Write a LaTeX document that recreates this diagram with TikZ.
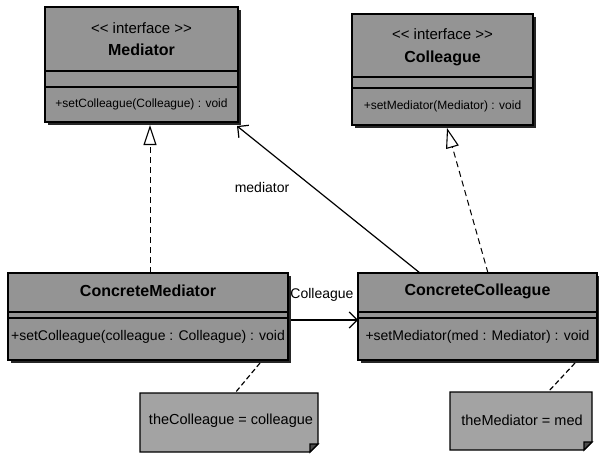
\documentclass[tikz,border=0pt]{standalone}
\usepackage{fontspec}
\setmainfont{Liberation Sans}
\usetikzlibrary{arrows.meta,shadows}
\begin{document}
\begin{tikzpicture}[x=1pt,y=-1pt,
  cls/.style={draw=black, line width=1.6pt, fill=black!42, inner sep=0pt, outer sep=0pt,
    drop shadow={shadow xshift=3pt, shadow yshift=-3pt, opacity=1, fill=black!85}},
  sepline/.style={draw=black, line width=1.4pt},
  stereo/.style={inner sep=0pt, font=\fontsize{15}{16}\selectfont},
  cname/.style={inner sep=0pt, font=\fontsize{16}{18}\selectfont\bfseries},
  imeth/.style={inner sep=0pt, font=\fontsize{12}{14}\selectfont},
  cmeth/.style={inner sep=0pt, font=\fontsize{14}{16}\selectfont},
  notebody/.style={draw=none, inner sep=0pt, outer sep=0pt},
  noteline/.style={draw=black, line width=1.3pt, fill=black!36},
  notetext/.style={inner sep=0pt, font=\fontsize{14.5}{16}\selectfont},
  lbl/.style={inner sep=0pt, font=\fontsize{14}{16}\selectfont},
  realize/.style={draw=black, line width=1pt, dash pattern=on 6pt off 4pt,
    -{Triangle[open, length=20pt, width=13pt, line width=1.1pt]}},
  assoc/.style={draw=black, line width=1.2pt, -{Straight Barb[length=8pt, width=16pt, line width=1.2pt]}},
  anchorline/.style={draw=black, line width=1.2pt, dash pattern=on 5pt off 3pt},
]
\useasboundingbox (0,0) rectangle (599,455);

% interface Mediator
\node[cls, minimum width=193pt, minimum height=115pt] (med) at (141.5,64.5) {};
\draw[sepline] ([yshift=-64pt]med.north west) -- ([yshift=-64pt]med.north east);
\draw[sepline] ([yshift=-80pt]med.north west) -- ([yshift=-80pt]med.north east);
\node[stereo] (medst) at (141.5,28) {<{}< interface >{}>};
\node[cname] (medname) at (141.5,50) {Mediator};
\node[imeth] (medop) at (141.5,104) {+setColleague(Colleague) : void};

% interface Colleague
\node[cls, minimum width=181pt, minimum height=111pt] (col) at (442.5,69.5) {};
\draw[sepline] ([yshift=-63pt]col.north west) -- ([yshift=-63pt]col.north east);
\draw[sepline] ([yshift=-74pt]col.north west) -- ([yshift=-74pt]col.north east);
\node[stereo] (colst) at (442.5,34) {<{}< interface >{}>};
\node[cname] (colname) at (442.5,58) {Colleague};
\node[imeth] (colop) at (442.5,106) {+setMediator(Mediator) : void};

% ConcreteMediator
\node[cls, minimum width=280pt, minimum height=87pt] (cm) at (148,316.5) {};
\draw[sepline] ([yshift=-39pt]cm.north west) -- ([yshift=-39pt]cm.north east);
\draw[sepline] ([yshift=-45pt]cm.north west) -- ([yshift=-45pt]cm.north east);
\node[cname] (cmname) at (148,291) {ConcreteMediator};
\node[cmeth] (cmop) at (148,337) {+setColleague(colleague : Colleague) : void};

% ConcreteColleague
\node[cls, minimum width=239pt, minimum height=87pt] (cc) at (477.5,316.5) {};
\draw[sepline] ([yshift=-39pt]cc.north west) -- ([yshift=-39pt]cc.north east);
\draw[sepline] ([yshift=-45pt]cc.north west) -- ([yshift=-45pt]cc.north east);
\node[cname] (ccname) at (477.5,291) {ConcreteColleague};
\node[cmeth] (ccop) at (477.5,337) {+setMediator(med : Mediator) : void};

% notes with folded corner
\node[notebody, minimum width=178pt, minimum height=59pt] (n1) at (229,422.5) {};
\draw[noteline] (n1.north west) -- (n1.north east) -- ([yshift=8pt]n1.south east)
  -- ([xshift=-8pt]n1.south east) -- (n1.south west) -- cycle;
\draw[noteline, fill=black!70] ([yshift=8pt]n1.south east) -- ([xshift=-8pt,yshift=8pt]n1.south east)
  -- ([xshift=-8pt]n1.south east) -- cycle;
\node[notetext] (n1txt) at (231,421) {theColleague = colleague};

\node[notebody, minimum width=142pt, minimum height=58pt] (n2) at (521,421) {};
\draw[noteline] (n2.north west) -- (n2.north east) -- ([yshift=8pt]n2.south east)
  -- ([xshift=-8pt]n2.south east) -- (n2.south west) -- cycle;
\draw[noteline, fill=black!70] ([yshift=8pt]n2.south east) -- ([xshift=-8pt,yshift=8pt]n2.south east)
  -- ([xshift=-8pt]n2.south east) -- cycle;
\node[notetext] (n2txt) at (522,420) {theMediator = med};

% realizations
\draw[realize] ([xshift=142pt]cm.north west) -- ([xshift=105pt,yshift=-3pt]med.south west);
\draw[realize] ([xshift=130pt]cc.north west) -- ([xshift=95pt,yshift=-3pt]col.south west);

% associations
\draw[assoc] ([xshift=62pt]cc.north west) -- ([xshift=-1pt,yshift=-4pt]med.south east);
\node[lbl] (lblmed) at (262,187) {mediator};
\draw[assoc] ([xshift=3pt,yshift=-3.5pt]cm.east) -- ([yshift=-3.5pt]cc.west);
\node[lbl] (lblcol) at (322,295) {Colleague};

% note anchors
\draw[anchorline] ([xshift=252pt,yshift=-3pt]cm.south west) -- ([xshift=95pt]n1.north west);
\draw[anchorline] ([xshift=217pt,yshift=-3pt]cc.south west) -- ([xshift=98pt]n2.north west);
\end{tikzpicture}
\end{document}
